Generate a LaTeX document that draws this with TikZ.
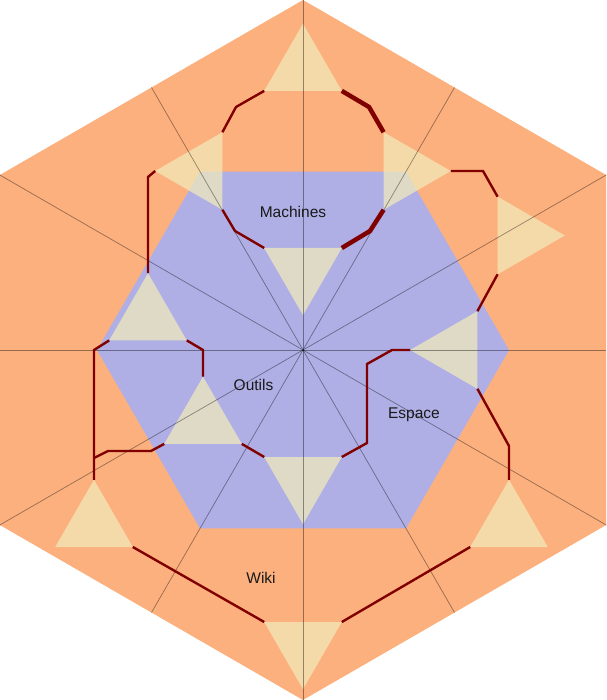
\documentclass[tikz,border=0pt]{standalone}
\usepackage{fontspec}
\setmainfont{Liberation Sans}
\usetikzlibrary{shapes.geometric}
\definecolor{hexorange}{HTML}{FCB07E}
\definecolor{hexblue}{HTML}{AFAFE6}
\definecolor{trifill}{HTML}{F1EBBA}
\definecolor{pathred}{HTML}{800000}
\tikzset{
  tri/.style={regular polygon, regular polygon sides=3, minimum size=89.6pt,
    inner sep=0pt, outer sep=0pt, fill=trifill, fill opacity=0.72, draw=none},
  triup/.style={tri},
  tridown/.style={tri, shape border rotate=180},
  trileft/.style={tri, shape border rotate=90},
  triright/.style={tri, shape border rotate=-90},
  route/.style={draw=pathred, line width=2.4pt},
  routethick/.style={draw=pathred, line width=4.5pt},
  ray/.style={draw=black, draw opacity=0.4, line width=0.7pt},
  zone/.style={font=\fontsize{15.5}{18}\selectfont, text=black!90, inner sep=0pt},
}
\begin{document}
\begin{tikzpicture}[x=1pt, y=-1pt]
\useasboundingbox (0,0) rectangle (606,700);
% outer hexagon
\coordinate (O) at (303,350);
\coordinate (v1) at (303,0);
\coordinate (v2) at (606.2,175);
\coordinate (v3) at (606.2,525);
\coordinate (v4) at (303,700);
\coordinate (v5) at (-0.2,525);
\coordinate (v6) at (-0.2,175);
\fill[hexorange] (v1) -- (v2) -- (v3) -- (v4) -- (v5) -- (v6) -- cycle;
% inner hexagon
\fill[hexblue] (509,350) -- (406,171.6) -- (200,171.6) -- (97,350) -- (200,528.4) -- (406,528.4) -- cycle;
% triangles
\node[triup]    (T1) at (303,68.5) {};
\node[tridown]  (T7) at (303,270.4) {};
\node[tridown]  (Tbi) at (303,479.4) {};
\node[tridown]  (Twiki) at (303,644.4) {};
\node[trileft]  (T2) at (200,171) {};
\node[triright] (T3) at (406,171) {};
\node[triright] (T4) at (520,235.5) {};
\node[trileft]  (T5) at (455,350) {};
\node[triup]    (T6) at (148,318) {};
\node[triup]    (Tout) at (203,421.5) {};
\node[triup]    (Tlb) at (94,524.6) {};
\node[triup]    (Trb) at (509,524.6) {};
% rays
\coordinate (m1) at (454.5,87.5);
\coordinate (m2) at (151.5,612.5);
\coordinate (m3) at (151.5,87.5);
\coordinate (m4) at (454.5,612.5);
\coordinate (h1) at (0,350);
\coordinate (h2) at (606,350);
\path[ray] (h1) -- (h2);
\path[ray] (v1) -- (v4);
\path[ray] (v2) -- (v5);
\path[ray] (v6) -- (v3);
\path[ray] (m1) -- (m2);
\path[ray] (m3) -- (m4);
% routes
\path[route] (T1.corner 2) -- (236,107) -- (T2.corner 3);
\path[routethick] (T1.corner 3) -- (369,107) -- (T3.corner 2);
\path[route] (T2.corner 2) -- (235,231) -- (T7.corner 3);
\path[routethick] (T3.corner 3) -- (370,231) -- (T7.corner 2);
\path[route] (T3.corner 1) -- (483,171) -- (T4.corner 2);
\path[route] (T4.corner 3) -- (T5.corner 3);
\path[route] (T5.corner 1) -- (392,350) -- (367,364) -- (367,443) -- (Tbi.corner 2);
\path[route] (T5.corner 2) -- (509,446) -- (Trb.corner 1);
\path[route] (Trb.corner 2) -- (Twiki.corner 2);
\path[route] (Twiki.corner 3) -- (Tlb.corner 3);
\path[route] (Tlb.corner 1) -- (94,350) -- (T6.corner 2);
\coordinate (kb) at (94,458);
\path[route] (kb) -- (108,451) -- (151,451) -- (Tout.corner 2);
\path[route] (T6.corner 3) -- (203,350) -- (Tout.corner 1);
\path[route] (Tout.corner 3) -- (Tbi.corner 3);
\path[route] (T6.corner 1) -- (148,177) -- (T2.corner 1);
% labels
\node[zone] (machines) at (293,212) {Machines};
\node[zone] (outils) at (253.5,385) {Outils};
\node[zone] (espace) at (414,415) {Espace};
\node[zone] (wiki) at (261,578) {Wiki};
\end{tikzpicture}
\end{document}
